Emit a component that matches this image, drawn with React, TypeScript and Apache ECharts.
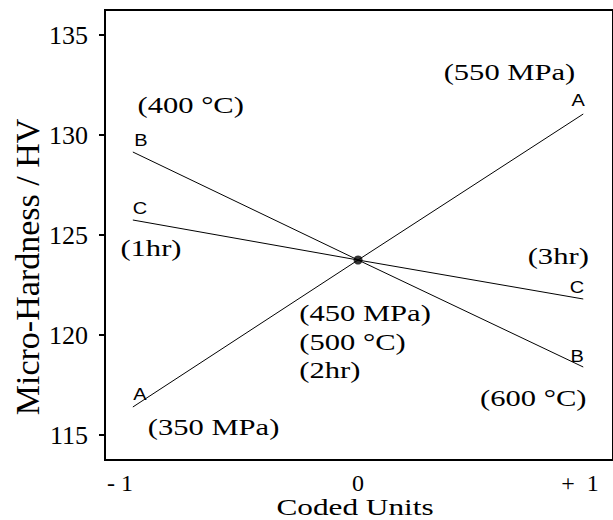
import React, { useEffect, useRef } from "react";
import * as echarts from "echarts";

// ---- data ----
const xPositions = [-0.946, 0, 0.946];
const seriesA = [116.4, 123.75, 131.05];
const seriesB = [129.15, 123.75, 118.4];
const seriesC = [125.75, 123.75, 121.8];
const centerPoint = [0, 123.75];
const yTicks = [115, 120, 125, 130, 135];
const xTicks = [-1, 0, 1];
const xTickLabels = ["- 1", "0", "+  1"];

// factor-level annotations, anchored in data coordinates
const annotationTexts = ["(400 °C)", "(550 MPa)", "(1hr)", "(3hr)", "(450 MPa)", "(500 °C)", "(2hr)", "(600 °C)", "(350 MPa)"];
const annotationAnchors = [
  [-0.703, 131.5],
  [0.636, 133.15],
  [-0.87, 124.35],
  [0.841, 123.95],
  [-0.247, 121.1],
  [-0.247, 119.65],
  [-0.247, 118.25],
  [0.736, 116.85],
  [-0.607, 115.4],
];
const annotationLeftAligned = [false, false, false, false, true, true, true, false, false];

// line end letters
const letterTexts = ["A", "A", "B", "B", "C", "C"];
const letterAnchors = [
  [-0.916, 117.0],
  [0.925, 131.7],
  [-0.912, 129.7],
  [0.92, 118.9],
  [-0.916, 126.3],
  [0.92, 122.35],
];

const SERIF = "Liberation Serif";
const SANS = "Liberation Sans";

export default function App() {
  const ref = useRef<HTMLDivElement>(null);

  useEffect(() => {
    if (!ref.current) return;
    const chart = echarts.init(ref.current, undefined, { renderer: "svg" });

    const line = (name: string, vals: number[]) => ({
      name,
      type: "line",
      data: xPositions.map((x, i) => [x, vals[i]]),
      symbol: "none",
      lineStyle: { color: "#000", width: 1 },
      z: 3,
    });

    chart.setOption({
      animation: false,
      backgroundColor: "#fff",
      grid: {
        left: 105,
        right: -2,
        top: 10,
        bottom: 60,
        show: true,
        borderColor: "#000",
        borderWidth: 2,
        backgroundColor: "transparent",
      },
      xAxis: {
        type: "value",
        min: -1.063,
        max: 1.071,
        axisLine: { show: false, onZero: false },
        axisTick: { show: false },
        splitLine: { show: false },
        axisLabel: {
          customValues: xTicks,
          formatter: (v: number) => {
            const i = xTicks.findIndex((t) => Math.abs(t - v) < 1e-6);
            return i >= 0 ? (i === xTicks.length - 1 ? `{r|${xTickLabels[i]}}` : xTickLabels[i]) : "";
          },
          rich: { r: { fontFamily: SERIF, fontSize: 24, color: "#000", padding: [0, 32, 0, 0] } },
          fontFamily: SERIF,
          fontSize: 24,
          color: "#000",
          margin: 11,
        },
      },
      yAxis: {
        type: "value",
        min: 113.75,
        max: 136.25,
        axisLine: { show: false, onZero: false },
        splitLine: { show: false },
        axisTick: {
          show: true,
          customValues: yTicks,
          length: 6,
          lineStyle: { color: "#000", width: 2 },
        },
        axisLabel: {
          customValues: yTicks,
          fontFamily: SERIF,
          fontSize: 26,
          color: "#000",
          margin: 17,
        },
      },
      series: [
        line("A", seriesA),
        line("B", seriesB),
        line("C", seriesC),
        {
          name: "center",
          type: "scatter",
          data: [centerPoint],
          symbol: "circle",
          symbolSize: 9,
          itemStyle: { color: "#000" },
          z: 4,
        },
      ],
    });

    const toPx = (p: number[]) => chart.convertToPixel({ xAxisIndex: 0, yAxisIndex: 0 }, p) as number[];

    const graphics: any[] = [];
    annotationTexts.forEach((t, i) => {
      const [px, py] = toPx(annotationAnchors[i]);
      graphics.push({
        type: "text",
        x: px,
        y: py,
        scaleX: 1.33,
        style: {
          text: t,
          fontFamily: SERIF,
          fontSize: 23,
          fill: "#000",
          align: annotationLeftAligned[i] ? "left" : "center",
          verticalAlign: "middle",
        },
        z: 10,
      });
    });
    letterTexts.forEach((t, i) => {
      const [px, py] = toPx(letterAnchors[i]);
      graphics.push({
        type: "text",
        x: px,
        y: py,
        scaleX: 1.25,
        style: {
          text: t,
          fontFamily: SANS,
          fontSize: 16,
          fill: "#000",
          align: "center",
          verticalAlign: "middle",
        },
        z: 10,
      });
    });
    // axis titles
    graphics.push({
      type: "text",
      x: 355,
      y: 507,
      scaleX: 1.36,
      style: {
        text: "Coded Units",
        fontFamily: SERIF,
        fontSize: 23,
        fill: "#000",
        align: "center",
        verticalAlign: "middle",
      },
    });
    graphics.push({
      type: "text",
      x: 27,
      y: 267,
      rotation: Math.PI / 2,
      style: {
        text: "Micro-Hardness / HV",
        fontFamily: SERIF,
        fontSize: 34,
        fill: "#000",
        align: "center",
        verticalAlign: "middle",
      },
    });

    chart.setOption({ graphic: graphics });

    return () => chart.dispose();
  }, []);

  return (
    <div
      ref={ref}
      style={{ position: "absolute", left: 0, top: 0, width: 613, height: 520, background: "#fff" }}
    />
  );
}
